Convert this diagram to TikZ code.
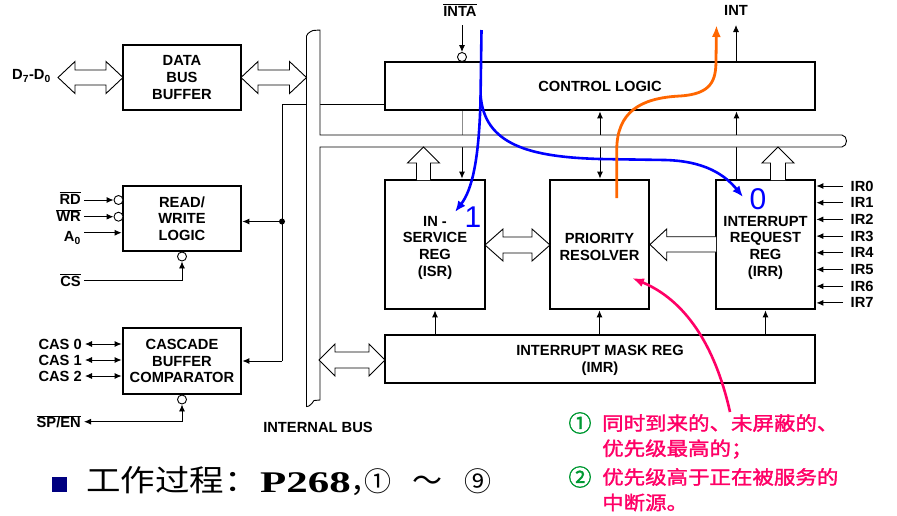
\documentclass[tikz,border=0pt]{standalone}
\usepackage{graphicx}
\usepackage{fontspec}
\setmainfont{Liberation Sans}
\newfontfamily\cjkreg{Noto Sans CJK SC}
\newfontfamily\cjkbold[FakeBold=1.6]{Noto Sans CJK SC}
\newfontfamily\tnrfont{Liberation Serif}
\usetikzlibrary{arrows.meta}
\definecolor{annpink}{RGB}{255,0,102}
\definecolor{anngreen}{RGB}{0,153,51}
\definecolor{pathorange}{RGB}{255,102,0}
\definecolor{navyblk}{RGB}{0,0,128}
\newcommand\blkfont{\bfseries\fontsize{14.7}{16.7}\selectfont}
\newcommand\annfont{\cjkbold\fontsize{19}{22}\selectfont}
\newcommand\tstrut[1]{\rule{0pt}{#1}}
% horizontal double fat arrow: x1 x2 y headlen headhalf shafthalf
\newcommand\fatdbl[6]{\draw[fat] (#1,#3) -- ++(#4,-#5) -- ++(0,{#5-#6}) -- ({#2-#4},{#3-#6}) -- ++(0,{#6-#5}) -- (#2,#3) -- ++(-#4,#5) -- ++(0,{#6-#5}) -- ({#1+#4},{#3+#6}) -- ++(0,{#5-#6}) -- cycle;}
% vertical up fat arrow: x ytip ybase headlen headhalf shafthalf
\newcommand\fatup[6]{\draw[fat] ({#1-#6},#3) -- ({#1-#6},{#2+#4}) -- ({#1-#5},{#2+#4}) -- (#1,#2) -- ({#1+#5},{#2+#4}) -- ({#1+#6},{#2+#4}) -- ({#1+#6},#3);}
\begin{document}
\begin{tikzpicture}[x=1pt,y=-1pt,
  blk/.style={draw, line width=2.8pt, fill=white, align=center, inner sep=0pt, font=\blkfont},
  lab/.style={font=\blkfont, inner sep=3pt},
  ln/.style={line width=0.9pt},
  tip/.style={-{Latex[length=7pt,width=6pt]}},
  dtip/.style={{Latex[length=7pt,width=6pt]}-{Latex[length=7pt,width=6pt]}},
  bub/.style={circle, draw, line width=0.9pt, fill=white, inner sep=0pt, minimum size=9pt},
  fat/.style={line width=0.9pt, fill=white, line join=miter},
  bpath/.style={line width=2.6pt, draw=blue, -{Latex[length=11pt,width=9pt]}},
  opath/.style={line width=2.8pt, draw=pathorange, -{Latex[length=12pt,width=9pt]}},
  ppath/.style={line width=2.6pt, draw=annpink, -{Latex[length=12pt,width=9pt]}},
  bignum/.style={text=blue, font=\fontsize{30}{30}\selectfont, inner sep=0pt},
  anntext/.style={anchor=west, text=annpink, font=\annfont, inner sep=0pt},
  annnum/.style={text=anngreen, font=\cjkbold\fontsize{23}{24}\selectfont, inner sep=0pt}
 ]
\useasboundingbox (0,0) rectangle (897,515);

% ---- blocks
\node[blk, minimum width=118pt, minimum height=65pt] (dbb) at (182,77.5) {DATA\\BUS\\BUFFER};
\node[blk, minimum width=118pt, minimum height=65pt] (rwl) at (182,218.5) {READ/\\WRITE\\LOGIC};
\node[blk, minimum width=118pt, minimum height=66pt] (cas) at (182,361) {CASCADE\\BUFFER\\COMPARATOR};
\node[blk, minimum width=430pt, minimum height=48pt] (ctl) at (600,86) {CONTROL LOGIC};
\node[blk, minimum width=100pt, minimum height=129pt] (isr) at (435,244.5) {\tstrut{16.5pt}IN -\\SERVICE\\REG\\(ISR)};
\node[blk, minimum width=99pt, minimum height=129pt] (pr) at (599.5,244.5) {\tstrut{14.5pt}PRIORITY\\RESOLVER};
\node[blk, minimum width=99pt, minimum height=129pt] (irr) at (765.5,244.5) {\tstrut{16.5pt}INTERRUPT\\REQUEST\\REG\\(IRR)};
\node[blk, minimum width=430pt, minimum height=48pt] (imr) at (600,359) {\tstrut{12.5pt}INTERRUPT MASK REG\\(IMR)};

% ---- control line to R/W logic and cascade
\coordinate (jc) at (282,361);
\node[circle, fill, inner sep=0pt, minimum size=6pt] (jn) at (282,221.5) {};
\draw[ln] ([yshift=7pt]ctl.south west) -| (jc);
\draw[ln,tip] (jc) -- (cas.east);
\draw[ln,tip] (jn) -- (jn -| rwl.east);

% ---- vertical connectors through the bus
\coordinate (xa) at (462,0);
\coordinate (xb) at (600,0);
\coordinate (xc) at (736.5,0);
\coordinate (bustop) at (0,135);
\coordinate (busbot) at (0,147);
\draw[ln,black!45] (xa |- ctl.south) -- (xa |- bustop);
\draw[ln,tip] (xa |- busbot) -- (xa |- isr.north);
\draw[ln,dtip] (xb |- ctl.south) -- (xb |- pr.north);
\draw[ln,tip] (xc |- irr.north) -- (xc |- ctl.south);

% ---- internal bus
\draw[ln, fill=white] (306.5,36) -- (308,33.5) .. controls (309.5,31) and (311,32.5) .. (313,30.5) -- (320,30) -- (320,135) -- (842,135) .. controls (848,136) and (848,146) .. (842,147) -- (320,147) -- (320,400) -- (314,400.5) .. controls (312,402) and (312,405) .. (309,406) -- (306.5,406.5) -- cycle;
\node[lab] (ibus) at (318,427) {INTERNAL BUS};

% ---- fat arrows
\fatdbl{58}{123}{77.5}{17}{16}{7.5}
\fatdbl{241}{306.5}{77.5}{17}{16}{7.5}
\fatdbl{485}{550}{245}{18}{16}{8}
\fatdbl{319}{385}{360}{16}{16}{8}
\draw[fat] (716,236.7) -- (666.7,236.7) -- (666.7,229) -- (650,244.5) -- (666.7,260.5) -- (666.7,252) -- (716,252);
\fatup{423.5}{147}{180}{16}{16}{7}
\fatup{778}{147}{180}{16}{16}{7.5}

% ---- IMR to registers
\draw[ln,tip] (imr.north -| isr.south) -- (isr.south);
\draw[ln,tip] (imr.north -| pr.south) -- (pr.south);
\draw[ln,tip] (imr.north -| irr.south) -- (irr.south);

% ---- INTA / INT
\node[lab] (inta) at (460,10) {$\overline{\mbox{INTA}}$};
\node[bub] (binta) at (462,57) {};
\coordinate (intas) at (462,25);
\draw[ln,tip] (intas) -- (binta.north);
\node[lab] (int) at (736,10) {INT};
\coordinate (intend) at (736,25);
\draw[ln,tip] (ctl.north -| intend) -- (intend);

% ---- left side signals
\node[lab, anchor=east] (d70) at (54,76) {D\textsubscript{7}-D\textsubscript{0}};
\node[lab, anchor=east] (rd) at (84,198) {$\overline{\mbox{RD}}$};
\node[bub] (brd) at (118.5,200) {};
\draw[ln,tip] (rd.east |- brd) -- (brd.west);
\node[lab, anchor=east] (wr) at (84,215.5) {$\overline{\mbox{WR}}$};
\node[bub] (bwr) at (118.5,216.7) {};
\draw[ln,tip] (wr.east |- bwr) -- (bwr.west);
\node[lab, anchor=east] (a0) at (84,238) {A\textsubscript{0}};
\coordinate (a0s) at (84,232.7);
\draw[ln,tip] (a0s) -- (a0s -| rwl.west);
\node[lab, anchor=east] (cs) at (84,280) {$\overline{\mbox{CS}}$};
\node[bub] (bcs) at (182,256.5) {};
\draw[ln,tip] (cs.east) -| (bcs.south);

\foreach \i/\yy in {0/344,1/360,2/376}{
  \node[lab, anchor=east] (cas\i) at (85,\yy) {CAS \i};
  \draw[ln,dtip] (cas\i.east) -- (cas\i.east -| cas.west);
}
\node[lab, anchor=east] (spen) at (84,421.7) {$\overline{\mbox{SP/EN}}$};
\node[bub] (bsp) at (182,399.5) {};
\draw[ln,dtip] (spen.east) -| (bsp.south);

% ---- IR inputs
\foreach \i in {0,...,7}{
  \node[lab, anchor=west, inner sep=2.5pt] (ir\i) at (848,{186+16.7*\i}) {IR\i};
  \draw[ln,tip] ([xshift=-5pt]ir\i.west) -- (ir\i.west -| irr.east);
}

% ---- highlighted paths
\coordinate (bstart) at (481.5,30);
\draw[bpath] (bstart) -- (480.5,100) .. controls (479,160) and (472,190) .. (455,212);
\draw[bpath] (480.6,95) .. controls (484,145) and (530,157) .. (600,159) -- (665,160) .. controls (705,161) and (725,175) .. (743,197);
\node[bignum] (n1) at (473,217.5) {1};
\node[bignum] (n0) at (758,199) {0};
\draw[opath] (616.7,198) -- (616.7,150) .. controls (617,112) and (640,98) .. (680,96) .. controls (712,94) and (716,80) .. (716,60) -- (716.5,25);
\draw[ppath] (730,412) .. controls (715,345) and (685,300) .. (632,278);

% ---- annotation
\node[annnum] (c1) at (580,423) {①};
\node[anntext] (t1) at (602,423) {\scalebox{1.13}[1]{同时到来的、未屏蔽的、}};
\node[anntext] (t2) at (602,449) {\scalebox{1.13}[1]{优先级最高的；}};
\node[annnum] (c2) at (580,477) {②};
\node[anntext] (t3) at (602,477) {\scalebox{1.13}[1]{优先级高于正在被服务的}};
\node[anntext] (t4) at (602,502.5) {\scalebox{1.13}[1]{中断源。}};

% ---- bottom line
\node[fill=navyblk, minimum size=15pt, inner sep=0pt] (bul) at (59,484) {};
\node[anchor=base west, inner sep=0pt, font=\cjkreg\fontsize{30}{32}\selectfont] (w1) at (86,491) {\scalebox{1.15}[1]{工作过程：}};
\node[anchor=base west, inner sep=0pt, font=\fontsize{30}{32}\selectfont] (w2) at (260,492.5) {\scalebox{1.43}[1]{\tnrfont\bfseries P268}\cjkreg ，};
\node[anchor=base, inner sep=0pt, font=\cjkreg\fontsize{27}{28}\selectfont] (w3) at (378,491) {①};
\node[anchor=base, inner sep=0pt, font=\cjkreg\fontsize{30}{30}\selectfont] (w4) at (427,491) {～};
\node[anchor=base, inner sep=0pt, font=\cjkreg\fontsize{27}{28}\selectfont] (w5) at (477.5,491) {⑨};
\end{tikzpicture}
\end{document}
